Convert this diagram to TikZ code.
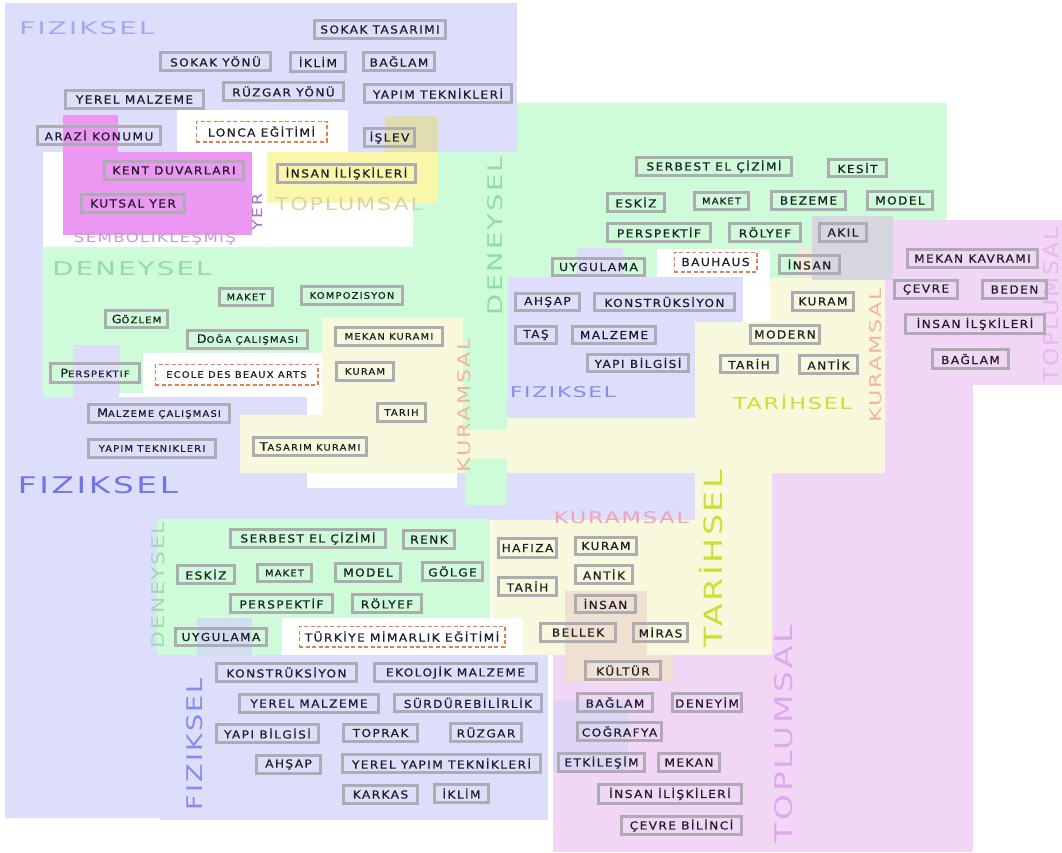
\documentclass[tikz,border=0pt]{standalone}
\usepackage{fontspec}
\usepackage{graphicx}
\newfontfamily\bxfont[LetterSpace=12,FakeBold=0.6]{DejaVu Sans}
\newfontfamily\lbfont[LetterSpace=8]{DejaVu Sans}
\definecolor{cBlue}{RGB}{221,222,251}
\definecolor{cGreen}{RGB}{206,251,216}
\definecolor{cCream}{RGB}{248,248,221}
\definecolor{cCreamB}{RGB}{244,234,214}
\definecolor{cPink}{RGB}{242,214,246}
\definecolor{cMag}{RGB}{236,152,242}
\definecolor{cYel}{RGB}{250,246,170}
\definecolor{cKhaki}{RGB}{224,222,176}
\definecolor{cGrey}{RGB}{214,214,224}
\definecolor{cPeach}{RGB}{240,224,210}
\definecolor{cViolet}{RGB}{222,212,246}
\definecolor{cUyg}{RGB}{208,222,240}
\definecolor{cBorder}{RGB}{172,172,178}
\definecolor{cDash}{RGB}{222,128,80}
\definecolor{cText}{RGB}{30,30,40}
\definecolor{cLbBlueA}{RGB}{164,168,240}
\definecolor{cLbBlueB}{RGB}{108,118,228}
\definecolor{cLbBlueC}{RGB}{132,142,232}
\definecolor{cLbGreen}{RGB}{146,220,168}
\definecolor{cLbGreenB}{RGB}{156,220,178}
\definecolor{cLbSem}{RGB}{192,158,214}
\definecolor{cLbYer}{RGB}{164,108,194}
\definecolor{cLbTop}{RGB}{214,214,164}
\definecolor{cLbKur}{RGB}{242,182,154}
\definecolor{cLbTar}{RGB}{202,224,50}
\definecolor{cLbKurB}{RGB}{240,164,180}
\definecolor{cLbTopL}{RGB}{224,168,236}
\definecolor{cLbTopR}{RGB}{234,182,240}
\tikzset{
  bxs/.style={draw=cBorder, line width=2.6pt, inner sep=0pt, text=cText,
    font=\bxfont\fontsize{11}{12}\selectfont},
  bxd/.style={draw=cDash, dash pattern=on 4pt off 2.5pt, line width=1.6pt,
    inner sep=0pt, text=cText, font=\bxfont\fontsize{11}{12}\selectfont},
  lbl/.style={inner sep=0pt}
}
\newcommand\bx[7][bxs]{\node[#1, minimum width={#5-#3-2.6}, minimum height={#6-#4-2.6}] (#2) at ({(#3+#5)/2},{(#4+#6)/2}) {\scalebox{1.1}[1]{#7}};}
\newcommand\lb[7]{\node[lbl, text=#2, rotate=#3] (#1) at (#4) {\resizebox{#5pt}{#6pt}{\lbfont #7}};}
\newcommand\sm[1]{{\fontsize{9}{10}\selectfont #1}}
\newcommand\scx[2]{{\fontsize{11.5}{12}\selectfont #1}{\fontsize{9}{10}\selectfont #2}}
\begin{document}
\begin{tikzpicture}[x=1pt,y=-1pt]
\useasboundingbox (0,0) rectangle (1062,852);
\clip (0,0) rectangle (1062,852);
\fill[white] (0,0) rectangle (1062,852);
% ---------- background areas ----------
\fill[cBlue] (5,3) rectangle (517,152);
\fill[cBlue] (5,152) rectangle (695,520);
\fill[cBlue] (5,520) rectangle (160,818);
\fill[cGreen] (517,103) rectangle (947,152);
\fill[cGreen] (43,152) rectangle (947,397);
\fill[cGreen] (463,397) rectangle (507,430);
\fill[white] (177,110) rectangle (348,152);
\fill[white] (43,152) rectangle (413,247);
\fill[cMag] (63,115) rectangle (118,152);
\fill[cMag] (63,152) rectangle (252,235);
\fill[cYel] (267,152) rectangle (438,203);
\fill[cKhaki] (385,116) rectangle (438,152);
\fill[cBlue] (73,345) rectangle (120,397);
\fill[white] (143,353) rectangle (322,397);
\fill[white] (119,393) rectangle (143,397);
\fill[white] (307,397) rectangle (322,415);
\fill[cCream] (322,318) rectangle (463,473);
\fill[cCream] (240,415) rectangle (322,473);
\fill[white] (307,473) rectangle (457,488);
\fill[cCream] (507,418) rectangle (885,473);
\fill[cCream] (463,430) rectangle (507,473);
\fill[cGreen] (465,459) rectangle (507,505);
\fill[white] (657,249) rectangle (770,322);
\fill[cBlue] (508,277) rectangle (743,322);
\fill[cBlue] (508,322) rectangle (695,418);
\fill[cBlue] (577,248) rectangle (623,277);
\fill[cCream] (770,278) rectangle (885,418);
\fill[cCream] (695,322) rectangle (770,418);
\fill[cCream] (695,473) rectangle (772,655);
\fill[cCreamB] (797,247) rectangle (830,278);
\fill[cPink] (885,220) rectangle (1062,385);
\fill[cPink] (885,385) rectangle (973,852);
\fill[cPink] (772,473) rectangle (885,852);
\fill[cPink] (553,655) rectangle (772,852);
\fill[cGrey] (812,216) rectangle (893,280);
\fill[cGreen] (157,519) rectangle (490,655);
\fill[cCream] (492,520) rectangle (695,655);
\fill[white] (282,618) rectangle (523,655);
\fill[cUyg] (197,618) rectangle (252,660);
\fill[cBlue] (160,655) rectangle (548,820);
\fill[cPeach] (565,591) rectangle (647,655);
\fill[cPeach] (565,655) rectangle (673,682);
\fill[cViolet] (553,700) rectangle (628,773);
% ---------- category labels ----------
\lb{l1}{cLbBlueA}{0}{87,28}{135}{13}{FIZIKSEL}
\lb{l2}{cLbBlueB}{0}{98,485}{160}{17}{FIZIKSEL}
\lb{l3}{cLbBlueC}{0}{563,392.5}{106}{11}{FIZIKSEL}
\lb{l4}{cLbBlueC}{90}{195,744}{132}{16}{FIZIKSEL}
\lb{l5}{cLbGreen}{0}{132,269}{159}{14}{DENEYSEL}
\lb{l6}{cLbGreen}{90}{495.5,236}{158}{15}{DENEYSEL}
\lb{l7}{cLbGreenB}{90}{158.5,585}{126}{13}{DENEYSEL}
\lb{l8}{cLbSem}{0}{155,238}{162}{12}{SEMBOLİKLEŞMİŞ}
\lb{l9}{cLbYer}{90}{257,212}{36}{10}{YER}
\lb{l10}{cLbTop}{0}{349,204.5}{148}{13}{TOPLUMSAL}
\lb{l11}{cLbKur}{90}{464,405}{134}{13}{KURAMSAL}
\lb{l12}{cLbKur}{90}{876,355}{134}{12}{KURAMSAL}
\lb{l13}{cLbTar}{0}{792.5,402}{119}{15}{TARİHSEL}
\lb{l14}{cLbKurB}{0}{621.5,518}{135}{12}{KURAMSAL}
\lb{l15}{cLbTar}{90}{711,558.5}{177}{23}{TARİHSEL}
\lb{l16}{cLbTopL}{90}{784,734}{218}{18}{TOPLUMSAL}
\lb{l17}{cLbTopR}{90}{1051,305}{155}{15}{TOPLUMSAL}
% ---------- boxes: top-left ----------
\bx{b1}{313}{19}{447}{40}{SOKAK TASARIMI}
\bx{b2}{159}{51}{272}{72}{SOKAK YÖNÜ}
\bx{b3}{289}{51}{347}{73}{İKLİM}
\bx{b4}{362}{51}{436}{72}{BAĞLAM}
\bx{b5}{222}{81}{345}{102}{RÜZGAR YÖNÜ}
\bx{b6}{363}{83}{513}{104}{YAPIM TEKNİKLERİ}
\bx{b7}{64}{89}{205}{110}{YEREL MALZEME}
\bx{b8}{36}{125}{162}{146}{ARAZİ KONUMU}
\bx[bxd]{b9}{195}{120}{328}{143}{LONCA EĞİTİMİ}
\bx{b10}{363}{127}{416}{148}{İŞLEV}
\bx{b11}{103}{160}{245}{181}{KENT DUVARLARI}
\bx{b12}{276}{163}{417}{184}{İNSAN İLİŞKİLERİ}
\bx{b13}{80}{193}{186}{214}{KUTSAL YER}
% ---------- boxes: left middle ----------
\bx{b14}{218}{287}{274}{307}{\sm{MAKET}}
\bx{b15}{300}{285}{404}{306}{\sm{KOMPOZISYON}}
\bx{b16}{104}{309}{169}{329}{\scx{G}{ÖZLEM}}
\bx{b17}{186}{329}{309}{350}{\scx{D}{OĞA ÇALIŞMASI}}
\bx{b18}{334}{326}{444}{347}{\sm{MEKAN KURAMI}}
\bx{b19}{49}{362}{141}{384}{\scx{P}{ERSPEKTIF}}
\bx[bxd]{b20}{154}{363}{319}{386}{\sm{ECOLE DES BEAUX ARTS}}
\bx{b21}{335}{361}{395}{382}{\sm{KURAM}}
\bx{b22}{87}{403}{231}{424}{\scx{M}{ALZEME ÇALIŞMASI}}
\bx{b23}{376}{402}{427}{423}{\sm{TARIH}}
\bx{b24}{87}{438}{217}{459}{\sm{YAPIM TEKNIKLERI}}
\bx{b25}{252}{436}{368}{457}{\scx{T}{ASARIM KURAMI}}
% ---------- boxes: top-right ----------
\bx{b26}{635}{156}{793}{177}{SERBEST EL ÇİZİMİ}
\bx{b27}{827}{158}{888}{178}{KESİT}
\bx{b28}{606}{192}{666}{213}{ESKİZ}
\bx{b29}{693}{191}{750}{211}{\sm{MAKET}}
\bx{b30}{770}{190}{847}{211}{BEZEME}
\bx{b31}{866}{190}{934}{211}{MODEL}
\bx{b32}{606}{222}{712}{243}{PERSPEKTİF}
\bx{b33}{728}{222}{802}{243}{RÖLYEF}
\bx{b34}{818}{222}{868}{243}{AKIL}
\bx{b35}{551}{257}{646}{277}{UYGULAMA}
\bx[bxd]{b36}{673}{251}{758}{273}{BAUHAUS}
\bx{b37}{778}{254}{841}{275}{İNSAN}
% ---------- boxes: middle ----------
\bx{b38}{514}{292}{581}{312}{AHŞAP}
\bx{b39}{593}{292}{736}{312}{KONSTRÜKSİYON}
\bx{b40}{791}{291}{855}{312}{KURAM}
\bx{b41}{514}{325}{558}{345}{TAŞ}
\bx{b42}{571}{325}{657}{345}{MALZEME}
\bx{b43}{749}{324}{821}{345}{MODERN}
\bx{b44}{586}{353}{690}{373}{YAPI BİLGİSİ}
\bx{b45}{719}{354}{779}{374}{TARİH}
\bx{b46}{798}{354}{859}{375}{ANTİK}
% ---------- boxes: right ----------
\bx{b47}{906}{248}{1039}{269}{MEKAN KAVRAMI}
\bx{b48}{893}{279}{959}{300}{ÇEVRE}
\bx{b49}{981}{279}{1048}{300}{BEDEN}
\bx{b50}{904}{313}{1046}{335}{İNSAN İLŞKİLERİ}
\bx{b51}{931}{348}{1010}{370}{BAĞLAM}
% ---------- boxes: lower green ----------
\bx{b52}{229}{528}{387}{549}{SERBEST EL ÇİZİMİ}
\bx{b53}{402}{529}{456}{550}{RENK}
\bx{b54}{176}{564}{236}{585}{ESKİZ}
\bx{b55}{256}{563}{313}{583}{\sm{MAKET}}
\bx{b56}{334}{562}{402}{583}{MODEL}
\bx{b57}{421}{561}{484}{582}{GÖLGE}
\bx{b58}{229}{593}{334}{614}{PERSPEKTİF}
\bx{b59}{351}{593}{423}{614}{RÖLYEF}
\bx{b60}{174}{627}{268}{647}{UYGULAMA}
\bx[bxd]{b61}{298}{625}{506}{648}{TÜRKİYE MİMARLIK EĞİTİMİ}
% ---------- boxes: lower blue ----------
\bx{b62}{215}{662}{358}{683}{KONSTRÜKSİYON}
\bx{b63}{373}{662}{538}{683}{EKOLOJİK MALZEME}
\bx{b64}{238}{693}{380}{714}{YEREL MALZEME}
\bx{b65}{393}{693}{543}{713}{SÜRDÜREBİLİRLİK}
\bx{b66}{215}{723}{320}{744}{YAPI BİLGİSİ}
\bx{b67}{342}{723}{419}{743}{TOPRAK}
\bx{b68}{449}{722}{523}{743}{RÜZGAR}
\bx{b69}{255}{754}{322}{775}{AHŞAP}
\bx{b70}{341}{753}{542}{774}{YEREL YAPIM TEKNİKLERİ}
\bx{b71}{342}{784}{419}{805}{KARKAS}
\bx{b72}{433}{783}{490}{804}{İKLİM}
% ---------- boxes: lower cream ----------
\bx{b73}{497}{537}{558}{559}{HAFIZA}
\bx{b74}{574}{536}{638}{556}{KURAM}
\bx{b75}{497}{576}{558}{597}{TARİH}
\bx{b76}{574}{564}{634}{585}{ANTİK}
\bx{b77}{574}{594}{637}{614}{İNSAN}
\bx{b78}{539}{622}{617}{643}{BELLEK}
\bx{b79}{632}{622}{689}{643}{MİRAS}
% ---------- boxes: lower pink ----------
\bx{b80}{584}{660}{662}{681}{KÜLTÜR}
\bx{b81}{576}{692}{654}{713}{BAĞLAM}
\bx{b82}{671}{692}{743}{713}{DENEYİM}
\bx{b83}{576}{721}{663}{742}{COĞRAFYA}
\bx{b84}{557}{752}{646}{773}{ETKİLEŞİM}
\bx{b85}{657}{752}{721}{773}{MEKAN}
\bx{b86}{597}{783}{743}{805}{İNSAN İLİŞKİLERİ}
\bx{b87}{620}{815}{743}{836}{ÇEVRE BİLİNCİ}
\end{tikzpicture}
\end{document}
